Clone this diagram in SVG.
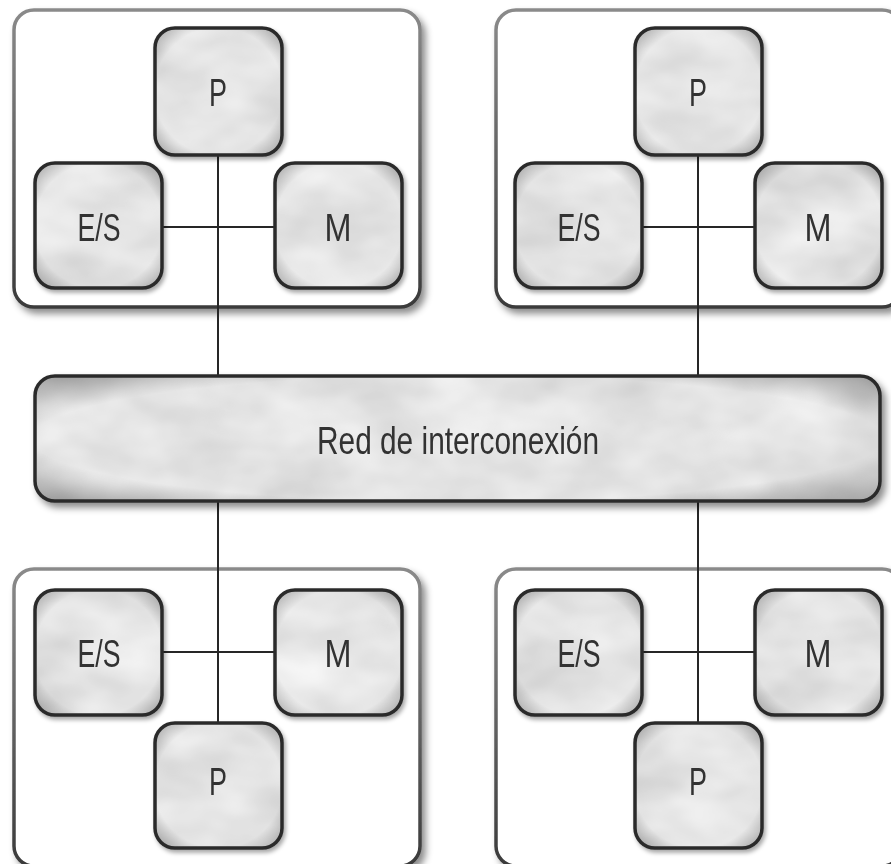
<svg xmlns="http://www.w3.org/2000/svg" width="891" height="864" viewBox="0 0 891 864">
<defs>
  <filter id="shadow" x="-10%" y="-10%" width="130%" height="130%">
    <feDropShadow dx="4" dy="5" stdDeviation="3.5" flood-color="#000" flood-opacity="0.45"/>
  </filter>
  <filter id="bshadow" x="-10%" y="-10%" width="130%" height="130%">
    <feDropShadow dx="2" dy="3" stdDeviation="2" flood-color="#000" flood-opacity="0.35"/>
  </filter>
  <filter id="tex" x="0" y="0" width="100%" height="100%">
    <feTurbulence type="fractalNoise" baseFrequency="0.012 0.02" numOctaves="3" seed="7" result="n"/>
    <feColorMatrix in="n" type="matrix" values="0.35 0 0 0 0.6  0.35 0 0 0 0.6  0.35 0 0 0 0.6  0 0 0 0 1" result="g"/>
    <feComposite in="g" in2="SourceGraphic" operator="in"/>
  </filter>
  <linearGradient id="cont" x1="0" y1="0" x2="0" y2="1">
    <stop offset="0" stop-color="#8a8a8a"/>
    <stop offset="1" stop-color="#3a3a3a"/>
  </linearGradient>
  <radialGradient id="inner" cx="0.5" cy="0.5" r="0.7">
    <stop offset="0.72" stop-color="#000" stop-opacity="0"/>
    <stop offset="1" stop-color="#000" stop-opacity="0.32"/>
  </radialGradient>
</defs>
<style>
  .cont { fill: #fff; stroke: url(#cont); stroke-width: 3.5; }
  .boxfill { fill: #ccc; filter: url(#tex); }
  .boxedge { fill: url(#inner); stroke: #2b2b2b; stroke-width: 3.5; }
  .lbl { font-family: "Liberation Sans", Arial, sans-serif; font-size: 38px; fill: #333; text-anchor: middle; }
  .conn line { stroke: #262626; stroke-width: 2; }
</style>

<!-- Containers -->
<g id="node-tl"><rect class="cont" x="14" y="10" width="406" height="297" rx="20" filter="url(#shadow)"/></g>
<g id="node-tr"><rect class="cont" x="496" y="10" width="406" height="297" rx="20" filter="url(#shadow)"/></g>
<g id="node-bl"><rect class="cont" x="14" y="569" width="406" height="297" rx="20" filter="url(#shadow)"/></g>
<g id="node-br"><rect class="cont" x="496" y="569" width="406" height="297" rx="20" filter="url(#shadow)"/></g>

<!-- Connectors -->
<g id="connectors" class="conn">
  <line x1="218" y1="155" x2="218" y2="376"/>
  <line x1="163" y1="227" x2="274" y2="227"/>
  <line x1="698" y1="155" x2="698" y2="376"/>
  <line x1="643" y1="227" x2="754" y2="227"/>
  <line x1="218" y1="501" x2="218" y2="723"/>
  <line x1="163" y1="652" x2="274" y2="652"/>
  <line x1="698" y1="501" x2="698" y2="723"/>
  <line x1="643" y1="652" x2="754" y2="652"/>
</g>

<!-- Top-left -->
<g id="tl-p" filter="url(#bshadow)"><rect class="boxfill" x="155" y="28" width="127" height="127" rx="20"/><rect class="boxedge" x="155" y="28" width="127" height="127" rx="20"/><text class="lbl" x="218" y="106" textLength="18" lengthAdjust="spacingAndGlyphs">P</text></g>
<g id="tl-es" filter="url(#bshadow)"><rect class="boxfill" x="35" y="163" width="127" height="125" rx="20"/><rect class="boxedge" x="35" y="163" width="127" height="125" rx="20"/><text class="lbl" x="99" y="241" textLength="43" lengthAdjust="spacingAndGlyphs">E/S</text></g>
<g id="tl-m" filter="url(#bshadow)"><rect class="boxfill" x="275" y="163" width="127" height="125" rx="20"/><rect class="boxedge" x="275" y="163" width="127" height="125" rx="20"/><text class="lbl" x="338" y="241" textLength="27" lengthAdjust="spacingAndGlyphs">M</text></g>

<!-- Top-right -->
<g id="tr-p" filter="url(#bshadow)"><rect class="boxfill" x="635" y="28" width="127" height="127" rx="20"/><rect class="boxedge" x="635" y="28" width="127" height="127" rx="20"/><text class="lbl" x="698" y="106" textLength="18" lengthAdjust="spacingAndGlyphs">P</text></g>
<g id="tr-es" filter="url(#bshadow)"><rect class="boxfill" x="515" y="163" width="127" height="125" rx="20"/><rect class="boxedge" x="515" y="163" width="127" height="125" rx="20"/><text class="lbl" x="579" y="241" textLength="43" lengthAdjust="spacingAndGlyphs">E/S</text></g>
<g id="tr-m" filter="url(#bshadow)"><rect class="boxfill" x="755" y="163" width="127" height="125" rx="20"/><rect class="boxedge" x="755" y="163" width="127" height="125" rx="20"/><text class="lbl" x="818" y="241" textLength="27" lengthAdjust="spacingAndGlyphs">M</text></g>

<!-- Interconnect -->
<g id="red" filter="url(#shadow)"><rect class="boxfill" x="35" y="376" width="845" height="125" rx="20"/><rect class="boxedge" x="35" y="376" width="845" height="125" rx="20"/><text class="lbl" x="458" y="454" textLength="282" lengthAdjust="spacingAndGlyphs">Red de interconexión</text></g>

<!-- Bottom-left -->
<g id="bl-es" filter="url(#bshadow)"><rect class="boxfill" x="35" y="590" width="127" height="125" rx="20"/><rect class="boxedge" x="35" y="590" width="127" height="125" rx="20"/><text class="lbl" x="99" y="667" textLength="43" lengthAdjust="spacingAndGlyphs">E/S</text></g>
<g id="bl-m" filter="url(#bshadow)"><rect class="boxfill" x="275" y="590" width="127" height="125" rx="20"/><rect class="boxedge" x="275" y="590" width="127" height="125" rx="20"/><text class="lbl" x="338" y="667" textLength="27" lengthAdjust="spacingAndGlyphs">M</text></g>
<g id="bl-p" filter="url(#bshadow)"><rect class="boxfill" x="155" y="723" width="127" height="125" rx="20"/><rect class="boxedge" x="155" y="723" width="127" height="125" rx="20"/><text class="lbl" x="218" y="795" textLength="18" lengthAdjust="spacingAndGlyphs">P</text></g>

<!-- Bottom-right -->
<g id="br-es" filter="url(#bshadow)"><rect class="boxfill" x="515" y="590" width="127" height="125" rx="20"/><rect class="boxedge" x="515" y="590" width="127" height="125" rx="20"/><text class="lbl" x="579" y="667" textLength="43" lengthAdjust="spacingAndGlyphs">E/S</text></g>
<g id="br-m" filter="url(#bshadow)"><rect class="boxfill" x="755" y="590" width="127" height="125" rx="20"/><rect class="boxedge" x="755" y="590" width="127" height="125" rx="20"/><text class="lbl" x="818" y="667" textLength="27" lengthAdjust="spacingAndGlyphs">M</text></g>
<g id="br-p" filter="url(#bshadow)"><rect class="boxfill" x="635" y="723" width="127" height="125" rx="20"/><rect class="boxedge" x="635" y="723" width="127" height="125" rx="20"/><text class="lbl" x="698" y="795" textLength="18" lengthAdjust="spacingAndGlyphs">P</text></g>
</svg>
